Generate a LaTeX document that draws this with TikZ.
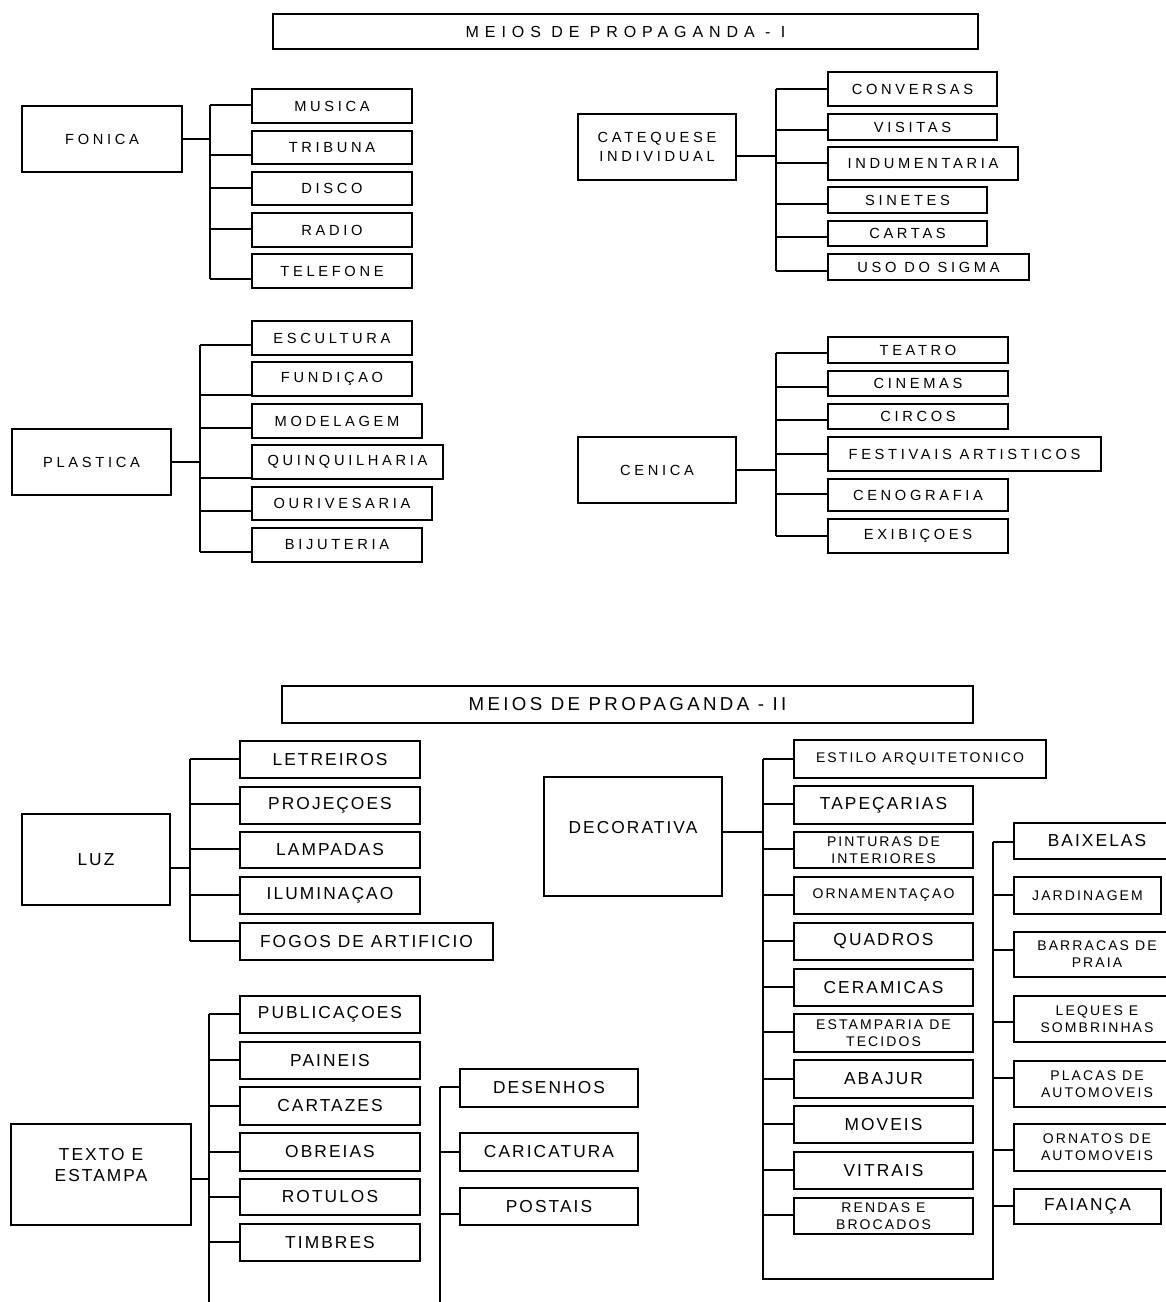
\documentclass[tikz,border=0pt]{standalone}
\usepackage{fontspec}
\setmainfont{Liberation Sans}
\newfontfamily\fTop[LetterSpace=25]{Liberation Sans}
\newfontfamily\fTitA[LetterSpace=37]{Liberation Sans}
\newfontfamily\fBig[LetterSpace=12]{Liberation Sans}
\newfontfamily\fSml[LetterSpace=15]{Liberation Sans}
\newfontfamily\fTitB[LetterSpace=18]{Liberation Sans}
\tikzset{
  bx/.style={draw, line width=0.8pt, inner sep=0pt, outer sep=0pt, align=center, anchor=center},
  tp/.style={font=\fTop\fontsize{11}{14.25}\selectfont},
  tA/.style={font=\fTitA\fontsize{12}{14}\selectfont},
  tB/.style={font=\fTitB\fontsize{14}{16}\selectfont},
  bg/.style={font=\fBig\fontsize{13}{15.75}\selectfont},
  sm/.style={font=\fSml\fontsize{10.5}{12.75}\selectfont},
  ln/.style={line width=0.8pt},
}
\newcommand\mybox[7][]{\node[bx,#1,minimum width={(#5-#3)*0.75pt},minimum height={(#6-#4)*0.75pt}] (#2) at ({(#3+#5)/2},{(#4+#6)/2}) {#7};}
\newcommand\br[3]{\coordinate (tmpc) at (0,#2); \draw[ln] (#1,#2) -- (#3.west |- tmpc);}
\newcommand\pr[3]{\coordinate (tmpc) at (0,#2); \draw[ln] (#1.east |- tmpc) -- (#3,#2);}
\begin{document}
\begin{tikzpicture}[x=0.75pt,y=-0.75pt]
\useasboundingbox (0,0) rectangle (1166,1302);
\fill[white] (0,0) rectangle (1166,1302);
\clip (0,0) rectangle (1166,1302);

% ===== PART I =====
\mybox[tA]{tit1}{273}{14}{978}{49}{MEIOS DE PROPAGANDA - I}

% FONICA
\mybox[tp]{fonica}{22}{106}{182}{172}{FONICA}
\mybox[tp]{musica}{252}{89}{412}{123}{MUSICA}
\mybox[tp]{tribuna}{252}{131}{412}{164}{TRIBUNA}
\mybox[tp]{disco}{252}{172}{412}{205}{DISCO}
\mybox[tp]{radio}{252}{213}{412}{247}{RADIO}
\mybox[tp]{telefone}{252}{254}{412}{288}{TELEFONE}
\pr{fonica}{139}{210}
\draw[ln] (210,105) -- (210,279);
\br{210}{105}{musica}
\br{210}{155}{tribuna}
\br{210}{188}{disco}
\br{210}{229}{radio}
\br{210}{279}{telefone}

% CATEQUESE
\mybox[tp]{catequese}{578}{114}{736}{180}{CATEQUESE\\INDIVIDUAL}
\mybox[tp]{conversas}{828}{72}{997}{106}{CONVERSAS}
\mybox[tp]{visitas}{828}{114}{997}{140}{VISITAS}
\mybox[tp]{indument}{828}{147}{1018}{180}{INDUMENTARIA}
\mybox[tp]{sinetes}{828}{187}{987}{213}{SINETES}
\mybox[tp]{cartas}{828}{221}{987}{246}{CARTAS}
\mybox[tp]{sigma}{828}{254}{1029}{280}{USO DO SIGMA}
\pr{catequese}{156}{776}
\draw[ln] (776,89) -- (776,271);
\br{776}{89}{conversas}
\br{776}{130}{visitas}
\br{776}{163}{indument}
\br{776}{204}{sinetes}
\br{776}{237}{cartas}
\br{776}{271}{sigma}

% PLASTICA
\mybox[tp]{plastica}{12}{429}{171}{495}{PLASTICA}
\mybox[tp]{escultura}{252}{321}{412}{355}{ESCULTURA}
\mybox[tp]{fundicao}{252}{362}{412}{396}{FUNDIÇAO}
\mybox[tp]{modelagem}{252}{404}{422}{438}{MODELAGEM}
\mybox[tp]{quinq}{252}{445}{443}{479}{QUINQUILHARIA}
\mybox[tp]{ourives}{252}{487}{432}{520}{OURIVESARIA}
\mybox[tp]{bijuteria}{252}{528}{422}{562}{BIJUTERIA}
\pr{plastica}{462}{200}
\draw[ln] (200,345) -- (200,552);
\br{200}{345}{escultura}
\br{200}{395}{fundicao}
\br{200}{428}{modelagem}
\br{200}{478}{quinq}
\br{200}{511}{ourives}
\br{200}{552}{bijuteria}

% CENICA
\mybox[tp]{cenica}{578}{437}{736}{503}{CENICA}
\mybox[tp]{teatro}{828}{337}{1008}{363}{TEATRO}
\mybox[tp]{cinemas}{828}{371}{1008}{396}{CINEMAS}
\mybox[tp]{circos}{828}{404}{1008}{429}{CIRCOS}
\mybox[tp]{festivais}{828}{437}{1101}{471}{FESTIVAIS ARTISTICOS}
\mybox[tp]{cenografia}{828}{479}{1008}{511}{CENOGRAFIA}
\mybox[tp]{exibicoes}{828}{519}{1008}{553}{EXIBIÇOES}
\pr{cenica}{470}{776}
\draw[ln] (776,353) -- (776,536);
\br{776}{353}{teatro}
\br{776}{387}{cinemas}
\br{776}{420}{circos}
\br{776}{454}{festivais}
\br{776}{494}{cenografia}
\br{776}{536}{exibicoes}

% ===== PART II =====
\mybox[tB]{tit2}{282}{686}{973}{723}{MEIOS DE PROPAGANDA - II}

% LUZ
\mybox[bg]{luz}{22}{814}{170}{905}{LUZ}
\mybox[bg]{letreiros}{240}{741}{420}{778}{LETREIROS}
\mybox[bg]{projecoes}{240}{787}{420}{824}{PROJEÇOES}
\mybox[bg]{lampadas}{240}{832}{420}{868}{LAMPADAS}
\mybox[bg]{iluminacao}{240}{877}{420}{914}{ILUMINAÇAO}
\mybox[bg]{fogos}{240}{923}{493}{960}{FOGOS DE ARTIFICIO}
\pr{luz}{868}{190}
\draw[ln] (190,759) -- (190,941);
\br{190}{759}{letreiros}
\br{190}{804}{projecoes}
\br{190}{849}{lampadas}
\br{190}{895}{iluminacao}
\br{190}{941}{fogos}

% TEXTO E ESTAMPA
\mybox[bg,text depth=15pt]{texto}{11}{1124}{191}{1225}{TEXTO E\\ESTAMPA}
\mybox[bg]{publicacoes}{240}{996}{420}{1033}{PUBLICAÇOES}
\mybox[bg]{paineis}{240}{1042}{420}{1079}{PAINEIS}
\mybox[bg]{cartazes}{240}{1087}{420}{1125}{CARTAZES}
\mybox[bg]{obreias}{240}{1133}{420}{1171}{OBREIAS}
\mybox[bg]{rotulos}{240}{1179}{420}{1215}{ROTULOS}
\mybox[bg]{timbres}{240}{1224}{420}{1261}{TIMBRES}
\pr{texto}{1179}{209}
\draw[ln] (209,1014) -- (209,1302);
\br{209}{1014}{publicacoes}
\br{209}{1060}{paineis}
\br{209}{1106}{cartazes}
\br{209}{1152}{obreias}
\br{209}{1197}{rotulos}
\br{209}{1242}{timbres}
\mybox[bg]{desenhos}{460}{1069}{638}{1107}{DESENHOS}
\mybox[bg]{caricatura}{460}{1133}{638}{1171}{CARICATURA}
\mybox[bg]{postais}{460}{1188}{638}{1225}{POSTAIS}
\draw[ln] (440,1087) -- (440,1302);
\br{440}{1087}{desenhos}
\br{440}{1152}{caricatura}
\br{440}{1214}{postais}

% DECORATIVA
\mybox[bg,text depth=14pt]{decorativa}{544}{777}{722}{896}{DECORATIVA}
\mybox[sm]{estilo}{794}{740}{1046}{778}{ESTILO ARQUITETONICO}
\mybox[bg]{tapecarias}{794}{786}{973}{824}{TAPEÇARIAS}
\mybox[sm]{pinturas}{794}{832}{973}{868}{PINTURAS DE\\INTERIORES}
\mybox[sm]{ornament}{794}{877}{973}{914}{ORNAMENTAÇAO}
\mybox[bg]{quadros}{794}{923}{973}{960}{QUADROS}
\mybox[bg]{ceramicas}{794}{969}{973}{1006}{CERAMICAS}
\mybox[sm]{estamparia}{794}{1014}{973}{1052}{ESTAMPARIA DE\\TECIDOS}
\mybox[bg]{abajur}{794}{1060}{973}{1098}{ABAJUR}
\mybox[bg]{moveis}{794}{1106}{973}{1143}{MOVEIS}
\mybox[bg]{vitrais}{794}{1152}{973}{1189}{VITRAIS}
\mybox[sm]{rendas}{794}{1198}{973}{1234}{RENDAS E\\BROCADOS}
\pr{decorativa}{832}{763}
\draw[ln] (763,759) -- (763,1279) -- (993,1279) -- (993,842);
\br{763}{759}{estilo}
\br{763}{804}{tapecarias}
\br{763}{849}{pinturas}
\br{763}{895}{ornament}
\br{763}{941}{quadros}
\br{763}{987}{ceramicas}
\br{763}{1032}{estamparia}
\br{763}{1079}{abajur}
\br{763}{1124}{moveis}
\br{763}{1170}{vitrais}
\br{763}{1215}{rendas}
\mybox[bg]{baixelas}{1014}{823}{1180}{859}{BAIXELAS}
\mybox[sm]{jardinagem}{1014}{877}{1161}{914}{JARDINAGEM}
\mybox[sm]{barracas}{1014}{932}{1180}{977}{BARRACAS DE\\PRAIA}
\mybox[sm]{leques}{1014}{996}{1180}{1042}{LEQUES E\\SOMBRINHAS}
\mybox[sm]{placas}{1014}{1061}{1180}{1107}{PLACAS DE\\AUTOMOVEIS}
\mybox[sm]{ornatos}{1014}{1124}{1180}{1171}{ORNATOS DE\\AUTOMOVEIS}
\mybox[bg]{faianca}{1014}{1189}{1161}{1224}{FAIANÇA}
\br{993}{842}{baixelas}
\br{993}{895}{jardinagem}
\br{993}{950}{barracas}
\br{993}{1022}{leques}
\br{993}{1078}{placas}
\br{993}{1150}{ornatos}
\br{993}{1206}{faianca}
\end{tikzpicture}
\end{document}
